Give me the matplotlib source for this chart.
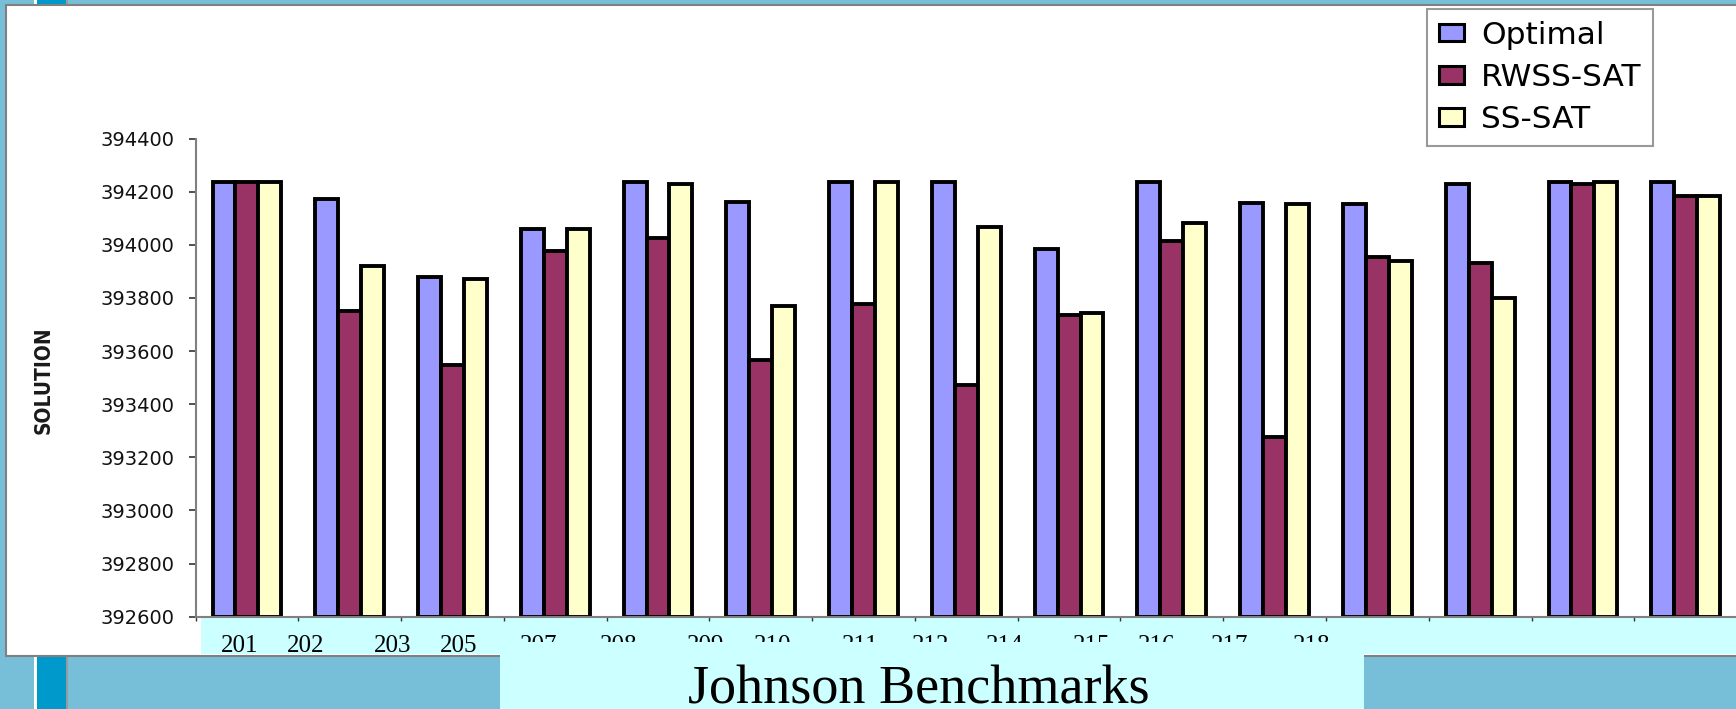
import numpy as np
import matplotlib

matplotlib.use("Agg")
import matplotlib.pyplot as plt
from matplotlib.patches import Rectangle

# values
benchmarks = ["201", "202", "203", "205", "207", "208", "209", "210",
              "211", "212", "214", "215", "216", "217", "218"]
optimal = [394235, 394171, 393880, 394058, 394235, 394160, 394235, 394235,
           393983, 394235, 394159, 394154, 394229, 394235, 394235]
rwss_sat = [394235, 393751, 393547, 393977, 394024, 393565, 393776, 393472,
            393737, 394015, 393277, 393955, 393930, 394229, 394184]
ss_sat = [394235, 393920, 393871, 394058, 394229, 393770, 394235, 394066,
          393742, 394083, 394154, 393940, 393801, 394235, 394184]
series_names = ["Optimal", "RWSS-SAT", "SS-SAT"]
y_ticks = list(range(392600, 394401, 200))

# where the pasted label text box puts each label (pixels, not aligned to bars)
label_px = [239.5, 306, 393, 458.5, 539, 619, 706, 773, 860, 931, 1005,
            1092, 1157, 1230, 1312]

W, H = 1736, 709
BG = "#77BFD8"
CYAN = "#CCFFFF"
COLORS = ["#9999FF", "#993366", "#FFFFCC"]


def fx(px):
    return px / W


def fy(py):
    return 1 - py / H


fig = plt.figure(figsize=(W / 100, H / 100), dpi=100)
fig.patch.set_facecolor(BG)

# slide decoration behind the chart
fig.add_artist(Rectangle((fx(34), 0), fx(3), 1, transform=fig.transFigure,
                         facecolor="white", edgecolor="none", zorder=-4))
fig.add_artist(Rectangle((fx(37), 0), fx(29), 1, transform=fig.transFigure,
                         facecolor="#0099CC", edgecolor="none", zorder=-4))
fig.add_artist(Rectangle((fx(66), 0), fx(2), 1, transform=fig.transFigure,
                         facecolor="#9a9a9a", edgecolor="none", zorder=-4))
fig.add_artist(Rectangle((fx(6), fy(656)), 1.0, fy(5) - fy(656),
                         transform=fig.transFigure, facecolor="white",
                         edgecolor="#808080", linewidth=1.5, zorder=-3))
fig.add_artist(Rectangle((fx(201), fy(654)), 1.0, fy(618) - fy(654),
                         transform=fig.transFigure, facecolor=CYAN,
                         edgecolor="none", zorder=-2))

pitch = 102.77
left_px = 195.5
ax = fig.add_axes([fx(left_px), fy(616.7), 15 * pitch / W, fy(138.6) - fy(616.7)])
ax.patch.set_visible(False)

x = np.arange(len(benchmarks))
bw = 0.223
for i, (vals, name, col) in enumerate(zip([optimal, rwss_sat, ss_sat], series_names, COLORS)):
    base = y_ticks[0]
    ax.bar(x + (i - 1) * bw, np.array(vals) - base, bottom=base, width=bw,
           color=col, edgecolor="black", linewidth=2.8, label=name, zorder=2)

ax.set_xlim(-0.5, len(benchmarks) - 0.5)
ax.set_ylim(y_ticks[0], y_ticks[-1])
ax.set_yticks(y_ticks)
ax.set_yticklabels([str(v) for v in y_ticks], fontsize=14, family="DejaVu Sans",
                   color="#111111")
ax.set_xticks([])
ax.set_xticks(np.arange(-0.5, len(benchmarks), 1), minor=True)
ax.tick_params(axis="y", direction="out", length=5, width=1.2, color="#333333", pad=10)
ax.tick_params(axis="x", which="minor", direction="out", length=3, width=1,
               color="#333333")
for side in ["top", "right"]:
    ax.spines[side].set_visible(False)
for side in ["left", "bottom"]:
    ax.spines[side].set_color("#808080")
    ax.spines[side].set_linewidth(1.5)

fig.text(fx(43.5), fy(380), "SOLUTION", rotation=90, ha="center", va="center",
         fontsize=15, fontweight="bold", fontstretch="condensed",
         family=["Liberation Sans Narrow", "DejaVu Sans"], color="#1a1a1a")

leg = ax.legend(loc="upper left", bbox_to_anchor=(fx(1427), fy(9)),
                bbox_transform=fig.transFigure, frameon=True,
                fancybox=False, handlelength=0.8, handleheight=0.48,
                handletextpad=0.55, labelspacing=0.42, borderpad=0.38,
                borderaxespad=0, prop={"family": "DejaVu Sans", "size": 22.5})
leg.get_frame().set_edgecolor("#808080")
leg.get_frame().set_linewidth(1.5)
leg.set_zorder(6)
for h in leg.legend_handles:
    h.set_linewidth(2.2)

# benchmark labels from the slide's text box
for lab, px in zip(benchmarks, label_px):
    fig.text(fx(px), fy(651.5), lab, ha="center", va="baseline", fontsize=18,
             family="Liberation Serif", color="black", zorder=3)

fig.add_artist(Rectangle((fx(500), 0), fx(864), fy(642), transform=fig.transFigure,
                         facecolor=CYAN, edgecolor="none", zorder=4))
fig.text(fx(919), fy(703), "Johnson Benchmarks", ha="center", va="baseline",
         fontsize=39, family="Liberation Serif", color="black", zorder=5)

fig.savefig("out.png", dpi=100, facecolor=BG)
